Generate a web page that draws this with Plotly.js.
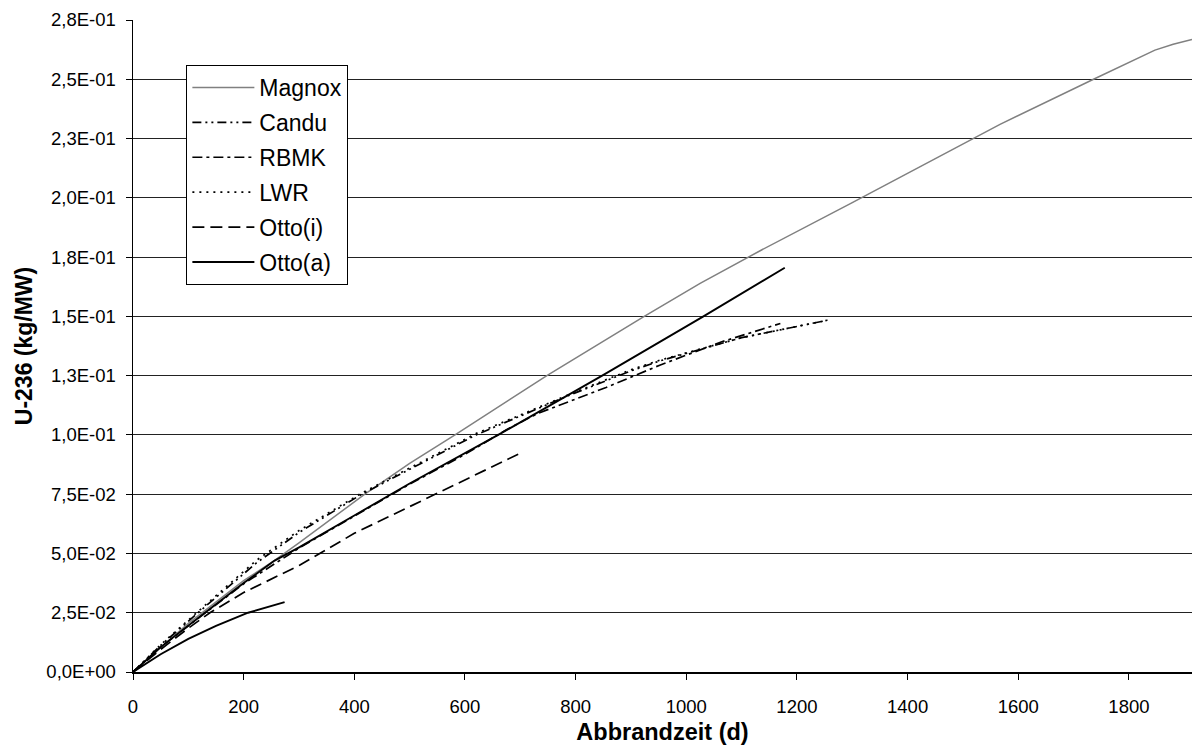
<!DOCTYPE html>
<html>
<head>
<meta charset="utf-8">
<script src="https://cdn.plot.ly/plotly-3.0.1.min.js"></script>
<style>html,body{margin:0;padding:0;background:#fff;}#chart{width:1192px;height:747px;}</style>
</head>
<body>
<div id="chart"></div>
<script>
// Abbrandzeit (d) and U-236 (kg/MW)
const magnoxX = [0, 100, 200, 256, 300, 419, 500, 582, 748, 924, 1025, 1136, 1300, 1567, 1736, 1800, 1847, 1880, 1914];
const magnoxY = [0, 0.0205, 0.0385, 0.0471, 0.0545, 0.075, 0.088, 0.1, 0.125, 0.15, 0.1639, 0.178, 0.198, 0.231, 0.25, 0.257, 0.2623, 0.2648, 0.2668];

const canduX = [0, 50, 115, 223, 301, 412, 500, 620, 786, 900, 952, 1100, 1256];
const canduY = [0, 0.0112, 0.0245, 0.046, 0.059, 0.0748, 0.0855, 0.1, 0.1165, 0.127, 0.1312, 0.141, 0.1484];

const rbmkX = [0, 50, 130, 200, 301, 400, 500, 600, 675, 731, 855, 952, 1063, 1170];
const rbmkY = [0, 0.0105, 0.0248, 0.0372, 0.0524, 0.0657, 0.0792, 0.0918, 0.1022, 0.109, 0.12, 0.1294, 0.1392, 0.147];

const lwrX = [0, 50, 115, 223, 301, 412, 500, 620, 786, 900, 952, 1100, 1256];
const lwrY = [0, 0.0115, 0.025, 0.0471, 0.0598, 0.0753, 0.086, 0.1006, 0.1168, 0.1275, 0.1315, 0.141, 0.1484];

const ottoIX = [0, 50, 100, 139, 200, 301, 400, 544, 600, 701];
const ottoIY = [0, 0.0095, 0.0185, 0.025, 0.0335, 0.045, 0.0585, 0.0746, 0.081, 0.0924];

const ottoAX = [0, 50, 130, 200, 256, 301, 400, 500, 660, 848, 1031, 1178];
const ottoAY = [0, 0.0105, 0.025, 0.0375, 0.047, 0.0527, 0.066, 0.0795, 0.1, 0.125, 0.15, 0.1705];

const ottoA2X = [0, 50, 100, 150, 208, 250, 274];
const ottoA2Y = [0, 0.0075, 0.014, 0.0195, 0.025, 0.028, 0.0295];

const yTickVals = [0, 0.025, 0.05, 0.075, 0.1, 0.125, 0.15, 0.175, 0.2, 0.225, 0.25, 0.275];
const yTickText = ['0,0E+00','2,5E-02','5,0E-02','7,5E-02','1,0E-01','1,3E-01','1,5E-01','1,8E-01','2,0E-01','2,3E-01','2,5E-01','2,8E-01'];
const xTickVals = [0, 200, 400, 600, 800, 1000, 1200, 1400, 1600, 1800];

const FONT = 'Liberation Sans, Arial, sans-serif';

const traces = [
  {name: 'Magnox', x: magnoxX, y: magnoxY, mode: 'lines', legendgroup: 'g1', line: {color: '#808080', width: 1.5}},
  {name: 'Candu', x: canduX, y: canduY, mode: 'lines', legendgroup: 'g2', line: {color: '#000', width: 1.7, dash: '9px,4px,2px,4px,2px,4px'}},
  {name: 'RBMK', x: rbmkX, y: rbmkY, mode: 'lines', legendgroup: 'g3', line: {color: '#000', width: 1.7, dash: '10px,4px,3px,4px'}},
  {name: 'LWR', x: lwrX, y: lwrY, mode: 'lines', legendgroup: 'g4', line: {color: '#000', width: 1.7, dash: '2px,5px'}},
  {name: 'Otto(i)', x: ottoIX, y: ottoIY, mode: 'lines', legendgroup: 'g5', line: {color: '#000', width: 1.7, dash: '12px,6px'}},
  {name: 'Otto(a)', x: ottoAX, y: ottoAY, mode: 'lines', legendgroup: 'g6', line: {color: '#000', width: 1.9}},
  {name: 'Otto(a)', x: ottoA2X, y: ottoA2Y, mode: 'lines', legendgroup: 'g6', showlegend: false, line: {color: '#000', width: 1.9}}
];

const layout = {
  width: 1192, height: 747,
  margin: {l: 133, r: 0, t: 20, b: 75},
  paper_bgcolor: '#fff', plot_bgcolor: '#fff',
  font: {family: FONT, color: '#000', size: 18},
  showlegend: true,
  legend: {
    x: 0.0504, y: 0.931, xanchor: 'left', yanchor: 'top',
    bgcolor: '#fff', bordercolor: '#000', borderwidth: 1,
    font: {family: FONT, size: 23, color: '#000'},
    traceorder: 'grouped', tracegroupgap: 2, itemwidth: 62
  },
  xaxis: {
    range: [0, 1914], tickmode: 'array', tickvals: xTickVals,
    showgrid: false, zeroline: false,
    showline: true, linecolor: '#000', linewidth: 1.5,
    ticks: 'outside', ticklen: 6, tickcolor: '#000', tickwidth: 1,
    tickfont: {family: FONT, size: 18.5, color: '#000'},
    ticklabelstandoff: 11,
    title: {text: 'Abbrandzeit (d)', font: {family: FONT, size: 23.5, color: '#000', weight: 'bold'}, standoff: 8}
  },
  yaxis: {
    range: [0, 0.275], tickmode: 'array', tickvals: yTickVals, ticktext: yTickText,
    showgrid: true, gridcolor: '#222', gridwidth: 1, zeroline: false,
    showline: true, linecolor: '#000', linewidth: 1.5,
    ticks: 'outside', ticklen: 6, tickcolor: '#000', tickwidth: 1,
    tickfont: {family: FONT, size: 18.5, color: '#000'},
    ticklabelstandoff: 6,
    title: {text: 'U-236 (kg/MW)', font: {family: FONT, size: 23, color: '#000', weight: 'bold'}, standoff: 7}
  }
};

Plotly.newPlot('chart', traces, layout, {displayModeBar: false, staticPlot: true});
</script>
</body>
</html>
